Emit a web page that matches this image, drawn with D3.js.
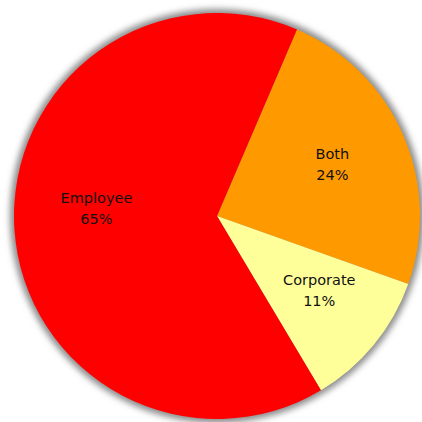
<!DOCTYPE html>
<html>
<head>
<meta charset="utf-8">
<script src="https://cdn.jsdelivr.net/npm/d3@7"></script>
<style>
  html, body { margin: 0; padding: 0; background: #fff; }
  svg { display: block; }
</style>
</head>
<body>
<div id="chart"></div>
<script>
const categories = ["Both", "Corporate", "Employee"];
const percents = [24, 11, 65];
const colors = ["#FF9900", "#FFFF99", "#FF0000"];

const width = 422, height = 422;
const cx = 217, cy = 216, radius = 203;
const startDeg = 23.2;

// small hand tweaks so labels sit where the original placed them
const labelNudge = {
    "Both": [0, 2],
    "Corporate": [5, -2],
    "Employee": [5, -12]
};

const svg = d3.select("#chart").append("svg")
    .attr("width", width)
    .attr("height", height);

const defs = svg.append("defs");
defs.append("filter")
    .attr("id", "shadow")
    .attr("x", "-20%").attr("y", "-20%")
    .attr("width", "140%").attr("height", "140%")
  .append("feGaussianBlur")
    .attr("stdDeviation", 3);

const g = svg.append("g").attr("transform", "translate(" + [cx, cy] + ")");

// soft grey rim behind the pie
g.append("circle")
    .attr("r", radius + 4)
    .attr("fill", "#8c8c8c")
    .attr("filter", "url(#shadow)");

const start = startDeg * Math.PI / 180;
const pie = d3.pie()
    .sort(null)
    .value(d => d.value)
    .startAngle(start)
    .endAngle(start + 2 * Math.PI);

const data = categories.map((c, i) => ({ name: c, value: percents[i], color: colors[i] }));
const arcs = pie(data);

const arc = d3.arc().innerRadius(0).outerRadius(radius);
const labelArc = d3.arc().innerRadius(radius * 0.62).outerRadius(radius * 0.62);

g.selectAll("path.slice")
    .data(arcs)
    .enter()
    .append("path")
    .attr("class", "slice")
    .attr("d", arc)
    .attr("fill", d => d.data.color);

const labels = g.selectAll("text.label")
    .data(arcs)
    .enter()
    .append("text")
    .attr("class", "label")
    .attr("transform", d => {
        let c = labelArc.centroid(d);
        let n = labelNudge[d.data.name] || [0, 0];
        return "translate(" + [c[0] + n[0], c[1] + n[1]] + ")";
    })
    .attr("text-anchor", "middle")
    .style("font-family", "'DejaVu Sans', sans-serif")
    .style("font-size", "14.5px")
    .style("fill", "#111");

labels.append("tspan")
    .attr("x", 0)
    .attr("y", -9)
    .text(d => d.data.name);
labels.append("tspan")
    .attr("x", 0)
    .attr("y", 12)
    .text(d => d.data.value + "%");
</script>
</body>
</html>
